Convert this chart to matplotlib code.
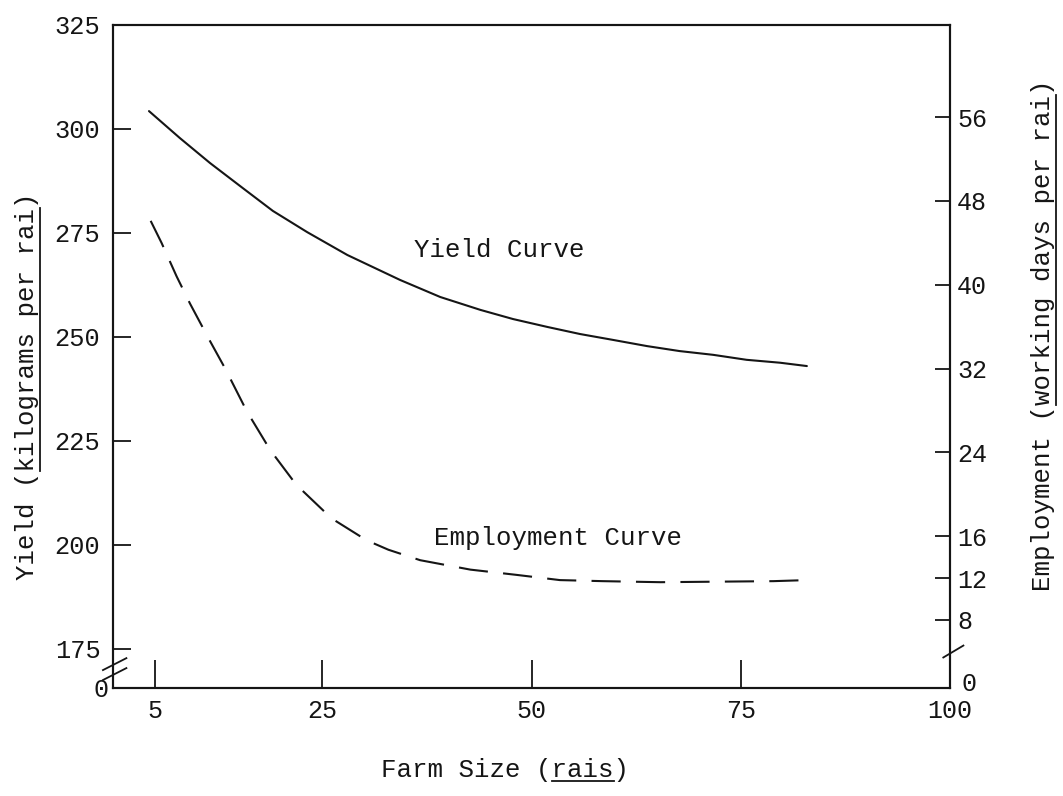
import matplotlib
matplotlib.use("Agg")
import matplotlib.pyplot as plt
from matplotlib.lines import Line2D

# values
farm_yield = [4.3, 8.0, 11.6, 15.5, 19.1, 23.2, 28.0, 34.3, 39.1, 43.9, 47.8,
              51.9, 55.8, 59.7, 63.8, 67.7, 71.7, 75.7, 79.7, 82.9]
yield_kg = [304.3, 297.8, 291.8, 285.8, 280.3, 275.2, 269.7, 263.7, 259.6, 256.5, 254.3,
            252.4, 250.7, 249.3, 247.8, 246.6, 245.7, 244.5, 243.8, 243.0]

farm_emp = [4.5, 5.8, 7.6, 9.2, 11.4, 13.4, 16.0, 18.8, 21.9, 26.1, 30.3, 32.9,
            36.7, 42.7, 48.2, 53.4, 58.5, 65.4, 78.9, 82.9]
emp_days = [46.1, 44.0, 40.8, 38.2, 34.9, 32.0, 27.9, 24.2, 20.9, 17.7, 15.6, 14.7,
            13.7, 12.8, 12.3, 11.8, 11.7, 11.6, 11.7, 11.8]

x_ticks = [5, 25, 50, 75, 100]
yield_ticks = [175, 200, 225, 250, 275, 300, 325]
emp_ticks = [8, 12, 16, 24, 32, 40, 48, 56]

INK = "#151515"
FONT = "Liberation Mono"
plt.rcParams["font.family"] = [FONT, "DejaVu Sans Mono"]
plt.rcParams["lines.scale_dashes"] = False

W, H = 1063, 796
fig = plt.figure(figsize=(W / 100, H / 100), dpi=100)
ax = fig.add_axes([0.1063, 0.1357, 0.7874, 0.8329])
ax2 = ax.twinx()

ax.plot(farm_yield, yield_kg, color=INK, lw=1.5, solid_capstyle="round", solid_joinstyle="round")
ax2.plot(farm_emp, emp_days, color=INK, lw=1.5, dashes=(21, 11), dash_joinstyle="round")

ax.set_xlim(0, 100)
ax.set_ylim(165.6, 325)
ax2.set_ylim(1.5, 64.8)

ax.set_xticks(x_ticks)
ax.set_xticklabels([str(v) for v in x_ticks])
ax.set_yticks(yield_ticks)
ax.set_yticklabels([str(v) for v in yield_ticks])
ax.set_yticks([165.6], ["0"], minor=True)
ax2.set_yticks(emp_ticks)
ax2.set_yticklabels([str(v) for v in emp_ticks])
ax2.set_yticks([2.1], ["0"], minor=True)   # "0" sits just above the corner on the right

for a in (ax, ax2):
    for s in a.spines.values():
        s.set_linewidth(1.5)
        s.set_color(INK)
ax.tick_params(axis="x", direction="in", length=20, width=1.3, pad=8, labelsize=18, colors=INK)
ax.tick_params(axis="y", direction="in", length=13, width=1.3, pad=9, labelsize=18.3, colors=INK)
ax.tick_params(axis="y", which="minor", length=0, pad=3, labelsize=18, colors=INK)
ax2.tick_params(axis="y", direction="in", length=11, width=1.3, pad=5, labelsize=18, colors=INK)
ax2.tick_params(axis="y", which="minor", length=0, pad=8, labelsize=18, colors=INK)

# axis break marks
brk = dict(color=INK, lw=1.3, transform=ax.transAxes, clip_on=False)
ax.plot([-0.012, 0.016], [0.027, 0.045], **brk)
ax.plot([-0.012, 0.016], [0.012, 0.030], **brk)
ax.plot([0.992, 1.016], [0.046, 0.064], **brk)

ax.text(46.1, 270.9, "Yield Curve", fontsize=18.5, color=INK, ha="center", va="center")
ax.text(53.2, 201.7, "Employment Curve", fontsize=18.5, color=INK, ha="center", va="center")

ylab = fig.text(27 / W, 1 - 386 / H, "Yield (kilograms per rai)",
                rotation=90, fontsize=18.5, color=INK, ha="center", va="center")
elab = fig.text(1043 / W, 1 - 335 / H, "Employment (working days per rai)",
                rotation=90, fontsize=18.5, color=INK, ha="center", va="center")
xlab = fig.text(505 / W, 1 - 770 / H, "Farm Size (rais)",
                fontsize=18.5, color=INK, ha="center", va="center")


# underline part of a label (monospace, so characters share the width)
def underline(txt, word, vertical):
    fig.canvas.draw()
    s = txt.get_text()
    i = s.index(word)
    j = i + len(word)
    bb = txt.get_window_extent()
    n = len(s)
    if vertical:
        y0 = bb.y0 + bb.height * i / n
        y1 = bb.y0 + bb.height * j / n
        x = bb.x1 + 1
        fig.add_artist(Line2D([x / W, x / W], [y0 / H, y1 / H], color=INK, lw=1.3))
    else:
        x0 = bb.x0 + bb.width * i / n
        x1 = bb.x0 + bb.width * j / n
        y = bb.y0 + 1
        fig.add_artist(Line2D([x0 / W, x1 / W], [y / H, y / H], color=INK, lw=1.3))


underline(ylab, "kilograms per rai", True)
underline(elab, "working days per rai", True)
underline(xlab, "rais", False)

fig.savefig("out.png", dpi=100, facecolor="white")
